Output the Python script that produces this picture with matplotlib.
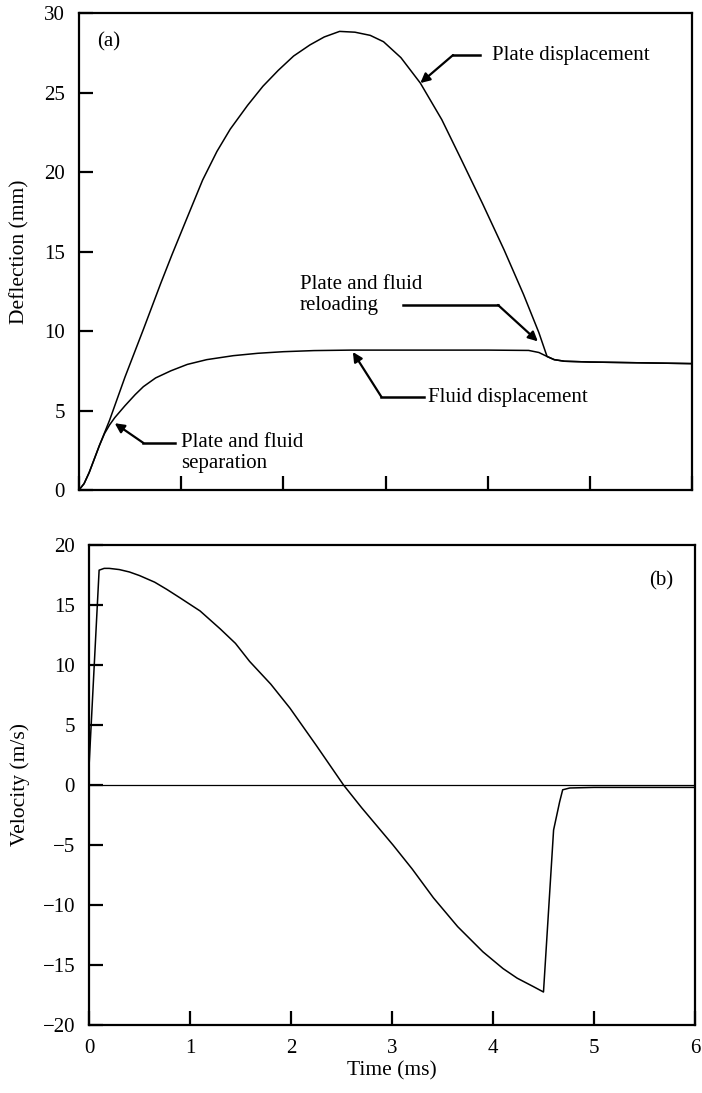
import numpy as np
import matplotlib
matplotlib.use("Agg")
import matplotlib.pyplot as plt

plt.rcParams['font.family'] = ['Liberation Serif', 'DejaVu Serif']
plt.rcParams['font.size'] = 15

# (a) plate displacement, mm
plate_t = [0, 0.05, 0.1, 0.15, 0.2, 0.25, 0.3, 0.45, 0.63, 0.8, 0.91, 1.05, 1.21, 1.35,
           1.48, 1.65, 1.8, 1.95, 2.1, 2.26, 2.4, 2.55, 2.7, 2.85, 2.98, 3.15, 3.34, 3.55,
           3.74, 3.95, 4.16, 4.35, 4.5, 4.58, 4.65, 4.75, 5.0, 5.5, 6.0]
plate_y = [0, 0.4, 1.1, 1.95, 2.8, 3.6, 4.4, 7.1, 10.1, 13.0, 14.8, 17.0, 19.5, 21.3,
           22.7, 24.2, 25.4, 26.4, 27.3, 28.0, 28.5, 28.85, 28.8, 28.6, 28.2, 27.2, 25.6, 23.3,
           20.8, 18.0, 15.1, 12.3, 9.9, 8.4, 8.2, 8.1, 8.05, 8.0, 7.95]

# (a) fluid displacement, mm
fluid_t = [0, 0.05, 0.1, 0.15, 0.2, 0.25, 0.3, 0.35, 0.45, 0.55, 0.63, 0.75, 0.9, 1.06,
           1.25, 1.51, 1.75, 2.0, 2.3, 2.66, 3.0, 3.5, 4.0, 4.4, 4.5, 4.58, 4.65, 4.75,
           5.0, 5.5, 6.0]
fluid_y = [0, 0.4, 1.1, 1.95, 2.8, 3.55, 4.1, 4.55, 5.3, 6.0, 6.5, 7.05, 7.5, 7.9,
           8.2, 8.45, 8.6, 8.7, 8.77, 8.8, 8.8, 8.8, 8.8, 8.78, 8.65, 8.4, 8.2, 8.1,
           8.05, 8.0, 7.95]

# (b) plate velocity, m/s
vel_t = [0, 0.1, 0.15, 0.2, 0.3, 0.4, 0.5, 0.65, 0.77, 0.9, 1.1, 1.3, 1.45, 1.59, 1.8,
         1.99, 2.25, 2.52, 2.7, 3.01, 3.2, 3.41, 3.65, 3.9, 4.1, 4.24, 4.4, 4.5, 4.6,
         4.66, 4.69, 4.76, 5.0, 6.0]
vel_v = [1.5, 17.9, 18.05, 18.05, 17.95, 17.75, 17.45, 16.9, 16.3, 15.6, 14.5, 13.0, 11.8,
         10.3, 8.4, 6.4, 3.3, 0.0, -1.9, -5.0, -7.0, -9.4, -11.8, -13.9, -15.3, -16.1,
         -16.8, -17.25, -3.75, -1.4, -0.4, -0.25, -0.2, -0.2]

fig = plt.figure(figsize=(7.02, 10.93), dpi=100)
ax1 = fig.add_axes([0.1125, 0.5517, 0.8735, 0.4363])
ax2 = fig.add_axes([0.1268, 0.0622, 0.8632, 0.4392])

lw_curve = 1.1
ax1.plot(plate_t, plate_y, color='black', lw=lw_curve)
ax1.plot(fluid_t, fluid_y, color='black', lw=lw_curve)
ax2.plot(vel_t, vel_v, color='black', lw=lw_curve)
ax2.axhline(0, color='black', lw=0.9)

for ax in (ax1, ax2):
    ax.set_xlim(0, 6)
    ax.set_xticks(range(7))
    for s in ax.spines.values():
        s.set_linewidth(1.6)
    ax.tick_params(direction='in', length=10, width=1.6, top=False, right=False,
                   labelsize=15)
    ax.tick_params(axis='y', pad=10)
    ax.tick_params(axis='x', pad=10)

ax1.set_ylim(0, 30)
ax1.set_yticks([0, 5, 10, 15, 20, 25, 30])
ax1.set_xticklabels([])
ax1.set_ylabel('Deflection (mm)', fontsize=15.5)
ax1.yaxis.set_label_coords(-0.080, 0.5)

ax2.set_ylim(-20, 20)
ax2.set_yticks(range(-20, 21, 5))
ax2.set_yticklabels(['\u221220', '\u221215', '\u221210', '\u22125', '0', '5', '10', '15', '20'])
ax2.set_xlabel('Time (ms)', fontsize=15.5)
ax2.xaxis.set_label_coords(0.5, -0.076)
ax2.set_ylabel('Velocity (m/s)', fontsize=15.5)
ax2.yaxis.set_label_coords(-0.097, 0.5)

ax1.text(0.03, 0.94, '(a)', transform=ax1.transAxes, fontsize=15, va='center')
ax2.text(0.925, 0.925, '(b)', transform=ax2.transAxes, fontsize=15, va='center')

arrow = dict(arrowstyle='-|>', color='black', lw=1.6, mutation_scale=14, shrinkA=0, shrinkB=0)
lead = dict(color='black', lw=1.8)

# Plate displacement
ax1.plot([3.92, 3.66], [27.36, 27.36], **lead)
ax1.annotate('', xy=(3.34, 25.6), xytext=(3.66, 27.36), arrowprops=arrow)
ax1.text(4.04, 27.36, 'Plate displacement', va='center', fontsize=15)

# Plate and fluid reloading
ax1.plot([3.17, 4.10], [11.64, 11.64], **lead)
ax1.annotate('', xy=(4.49, 9.35), xytext=(4.10, 11.64), arrowprops=arrow)
ax1.text(2.16, 12.25, 'Plate and fluid\nreloading', va='center', fontsize=15, linespacing=1.15)

# Fluid displacement
ax1.plot([3.38, 2.96], [5.85, 5.85], **lead)
ax1.annotate('', xy=(2.68, 8.68), xytext=(2.96, 5.85), arrowprops=arrow)
ax1.text(3.42, 5.85, 'Fluid displacement', va='center', fontsize=15)

# Plate and fluid separation
ax1.plot([0.94, 0.63], [2.96, 2.96], **lead)
ax1.annotate('', xy=(0.35, 4.2), xytext=(0.63, 2.96), arrowprops=arrow)
ax1.text(1.0, 2.3, 'Plate and fluid\nseparation', va='center', fontsize=15, linespacing=1.15)

fig.savefig('out.png', dpi=100)
